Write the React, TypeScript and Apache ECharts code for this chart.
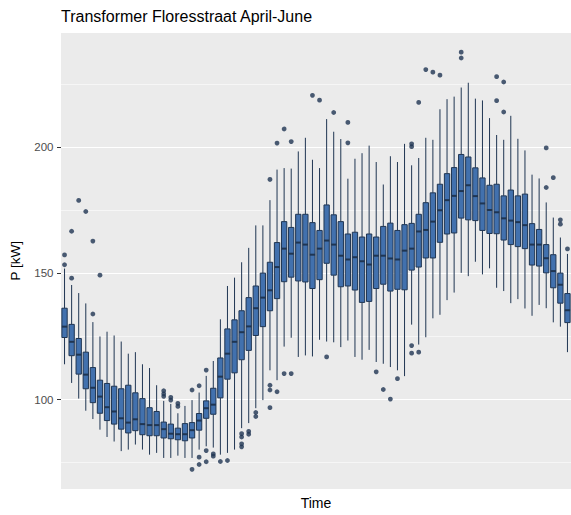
import React, { useEffect, useRef } from "react";
import * as echarts from "echarts";

const title = "Transformer Floresstraat April-June";
const yAxisTitle = "P [kW]";
const xAxisTitle = "Time";

// 72 time slots (20-minute intervals over a day)
const timeSlots = Array.from({ length: 72 }, (_, i) => {
  const m = i * 20;
  const h = Math.floor(m / 60);
  const mm = m % 60;
  return `${String(h).padStart(2, "0")}:${String(mm).padStart(2, "0")}`;
});

const lowWhisker = [
  114.0, 106.6, 100.4, 95.6, 92.3, 88.1, 85.2, 83.4, 79.6, 80.2, 82.2, 80.2,
  78.2, 78.9, 76.9, 76.9, 77.8, 76.9, 76.9, 80.2, 81.5, 81.0, 78.2, 78.9,
  80.2, 88.7, 90.7, 96.6, 99.8, 111.6, 107.7, 121.0, 124.5, 116.9, 117.5, 117.1,
  123.7, 123.0, 122.7, 120.8, 123.4, 116.9, 115.8, 119.7, 114.9, 114.2, 112.9, 111.6,
  109.3, 129.7, 121.8, 124.7, 132.2, 133.6, 139.4, 142.4, 150.2, 148.9, 154.6, 149.6,
  152.0, 144.3, 143.0, 138.2, 139.8, 136.1, 133.2, 137.5, 136.2, 130.6, 128.9, 118.8,
];
const q1 = [
  124.6, 117.4, 110.1, 104.3, 98.8, 94.6, 91.7, 90.3, 88.3, 86.8, 87.7, 86.1,
  85.7, 85.7, 84.8, 84.5, 84.1, 83.7, 84.8, 87.9, 92.6, 94.2, 100.7, 108.1,
  110.6, 115.8, 119.5, 125.4, 128.9, 135.2, 140.0, 146.7, 148.5, 147.0, 146.6, 144.0,
  147.5, 154.0, 149.3, 144.7, 145.0, 143.4, 138.5, 138.9, 144.0, 145.7, 143.0, 143.7,
  143.5, 151.3, 152.5, 156.1, 156.1, 162.3, 165.6, 166.0, 171.9, 171.2, 170.9, 167.0,
  165.8, 165.7, 163.2, 161.4, 160.6, 159.8, 153.3, 152.9, 150.2, 144.3, 138.2, 130.5,
];
const median = [
  128.9, 122.9, 117.8, 109.9, 104.7, 101.2, 97.0, 95.3, 92.6, 90.9, 92.2, 90.3,
  89.9, 89.9, 88.3, 86.5, 86.3, 86.3, 87.9, 91.7, 96.6, 98.0, 109.1, 118.2,
  122.9, 126.7, 129.0, 136.2, 140.4, 143.3, 152.5, 159.8, 157.8, 162.2, 161.4, 157.4,
  159.8, 163.0, 161.4, 157.0, 155.5, 156.4, 154.8, 153.5, 157.0, 157.0, 155.9, 155.5,
  159.0, 159.8, 166.6, 167.2, 170.5, 175.0, 179.0, 180.7, 182.6, 184.9, 180.6, 177.7,
  175.1, 174.2, 171.8, 170.9, 170.3, 169.1, 161.4, 161.4, 156.0, 150.9, 145.5, 135.4,
];
const q3 = [
  136.2, 129.8, 124.2, 118.8, 112.7, 107.7, 106.4, 105.3, 104.3, 105.7, 102.7, 100.4,
  96.8, 95.3, 91.1, 90.3, 88.7, 90.5, 90.9, 94.5, 99.5, 104.5, 116.5, 128.0,
  131.6, 135.2, 140.4, 145.0, 150.1, 154.4, 162.2, 170.5, 168.2, 173.4, 173.4, 170.1,
  167.0, 177.1, 173.2, 170.5, 165.6, 166.3, 164.4, 165.6, 164.4, 168.6, 169.9, 167.0,
  169.3, 169.8, 173.4, 178.0, 181.9, 185.3, 189.5, 191.9, 197.1, 196.1, 191.8, 187.8,
  184.9, 185.3, 180.7, 183.0, 180.7, 181.4, 169.7, 167.4, 161.4, 157.4, 150.1, 142.0,
];
const highWhisker = [
  151.9, 145.4, 142.2, 138.1, 130.7, 125.0, 126.9, 125.4, 123.0, 118.2, 118.8, 114.0,
  112.5, 105.7, 99.5, 98.3, 94.6, 97.5, 99.8, 102.8, 109.4, 115.3, 131.8, 145.0,
  148.3, 154.4, 160.1, 169.0, 169.0, 179.0, 191.1, 191.7, 191.5, 198.3, 203.7, 195.0,
  191.7, 211.1, 206.1, 203.2, 187.5, 195.4, 197.6, 200.6, 194.1, 185.2, 196.4, 194.1,
  201.3, 192.8, 195.7, 203.7, 202.9, 215.0, 219.0, 220.0, 223.6, 225.5, 219.2, 218.5,
  211.5, 204.8, 202.9, 212.4, 203.3, 198.7, 189.1, 187.6, 178.1, 172.1, 164.2, 157.7,
];

// outliers: slot index and value
const outlierSlot = [
  0, 0, 1, 1, 2, 3, 4, 4, 5,
  14, 14, 14, 15, 15, 16, 16, 18, 18, 19, 19, 19, 20, 20, 20, 21, 21, 22, 23,
  25, 25, 25, 25, 26, 26, 27, 27, 29, 29, 29, 29, 30, 30, 31, 31, 32, 32,
  35, 36, 37, 38, 40, 40, 44, 45, 46, 47, 49, 49, 49, 49, 50, 50, 51, 52, 53,
  56, 56, 61, 61, 62, 62, 68, 68, 69, 70, 70, 71,
];
const outlierValue = [
  157.3, 153.4, 166.7, 148.1, 178.9, 174.5, 162.8, 133.9, 149.3,
  103.5, 102.3, 101.3, 100.9, 99.8, 98.5, 97.3, 103.8, 72.4, 105.5, 77.2, 74.3, 111.7, 79.8, 75.4, 78.5, 77.6, 75.5, 75.9,
  86.5, 85.2, 82.5, 81.3, 87.4, 86.3, 94.9, 93.3, 187.2, 105.7, 103.8, 96.8, 201.6, 103.1, 207.2, 110.3, 202.2, 110.3,
  220.5, 218.6, 116.9, 213.7, 209.8, 201.7, 111.0, 104.0, 100.2, 108.3, 201.3, 200.2, 121.4, 118.4, 217.7, 118.8, 230.7, 229.7, 228.5,
  237.6, 235.3, 227.9, 218.4, 225.8, 213.9, 199.7, 184.0, 187.9, 171.2, 169.5, 159.7,
];

const FONT = "'Liberation Sans', Arial, Helvetica, sans-serif";
const FILL = "#4271AE";
const LINE = "#1F3552";

export default function App() {
  const ref = useRef<HTMLDivElement>(null);

  useEffect(() => {
    if (!ref.current) return;
    const chart = echarts.init(ref.current, undefined, { renderer: "svg" });

    const boxData = timeSlots.map((_, i) => [
      i,
      lowWhisker[i],
      q1[i],
      median[i],
      q3[i],
      highWhisker[i],
    ]);
    const outlierData = outlierSlot.map((s, k) => [s, outlierValue[k]]);

    const renderBox = (params: any, api: any) => {
      const x = api.value(0);
      const pLo = api.coord([x, api.value(1)]);
      const pQ1 = api.coord([x, api.value(2)]);
      const pMed = api.coord([x, api.value(3)]);
      const pQ3 = api.coord([x, api.value(4)]);
      const pHi = api.coord([x, api.value(5)]);
      const bw = api.size([1, 0])[0] * 0.75;
      const cx = pMed[0];
      return {
        type: "group",
        children: [
          {
            type: "line",
            shape: { x1: cx, y1: pQ3[1], x2: cx, y2: pHi[1] },
            style: { stroke: LINE, lineWidth: 1 },
          },
          {
            type: "line",
            shape: { x1: cx, y1: pQ1[1], x2: cx, y2: pLo[1] },
            style: { stroke: LINE, lineWidth: 1 },
          },
          {
            type: "rect",
            shape: {
              x: cx - bw / 2,
              y: pQ3[1],
              width: bw,
              height: pQ1[1] - pQ3[1],
            },
            style: { fill: FILL, stroke: LINE, lineWidth: 1 },
          },
          {
            type: "line",
            shape: { x1: cx - bw / 2, y1: pMed[1], x2: cx + bw / 2, y2: pMed[1] },
            style: { stroke: LINE, lineWidth: 2 },
          },
        ],
      };
    };

    chart.setOption({
      animation: false,
      backgroundColor: "#FFFFFF",
      textStyle: { fontFamily: FONT },
      title: {
        text: title,
        left: 61,
        top: 8,
        padding: 0,
        textStyle: {
          fontSize: 16,
          fontWeight: "normal",
          color: "#000000",
          fontFamily: FONT,
        },
      },
      grid: {
        left: 61,
        right: 0,
        top: 32,
        bottom: 21,
        show: true,
        backgroundColor: "#EBEBEB",
        borderWidth: 0,
      },
      xAxis: {
        type: "category",
        data: timeSlots,
        boundaryGap: true,
        name: xAxisTitle,
        nameLocation: "middle",
        nameGap: 6.5,
        nameTextStyle: {
          fontSize: 14,
          color: "#000000",
          fontFamily: FONT,
          verticalAlign: "top",
        },
        axisLine: { show: false },
        axisTick: { show: false },
        axisLabel: { show: false },
        splitLine: { show: false },
      },
      yAxis: {
        type: "value",
        min: 64.4,
        max: 245.6,
        splitNumber: 4,
        name: yAxisTitle,
        nameLocation: "middle",
        nameGap: 39,
        nameTextStyle: {
          fontSize: 13.5,
          color: "#000000",
          fontFamily: FONT,
        },
        axisLine: { show: false },
        axisTick: {
          show: true,
          length: 4,
          lineStyle: { color: "#333333", width: 1 },
        },
        axisLabel: {
          show: true,
          showMinLabel: false,
          showMaxLabel: false,
          margin: 7.5,
          fontSize: 11.5,
          color: "#4D4D4D",
          fontFamily: FONT,
        },
        splitLine: {
          show: true,
          lineStyle: { color: "#FFFFFF", width: 1.1 },
        },
        minorTick: { show: false, splitNumber: 2 },
        minorSplitLine: {
          show: true,
          lineStyle: { color: "#FFFFFF", width: 0.55 },
        },
      },
      series: [
        {
          type: "custom",
          data: boxData,
          renderItem: renderBox,
          encode: { x: 0, y: [1, 2, 3, 4, 5] },
          silent: true,
          z: 2,
        },
        {
          type: "scatter",
          data: outlierData,
          symbol: "circle",
          symbolSize: 4.8,
          itemStyle: { color: LINE },
          silent: true,
          z: 4,
        },
      ],
    });

    return () => {
      chart.dispose();
    };
  }, []);

  return (
    <div
      ref={ref}
      style={{ position: "absolute", left: 0, top: 0, width: 571, height: 515 }}
    />
  );
}
